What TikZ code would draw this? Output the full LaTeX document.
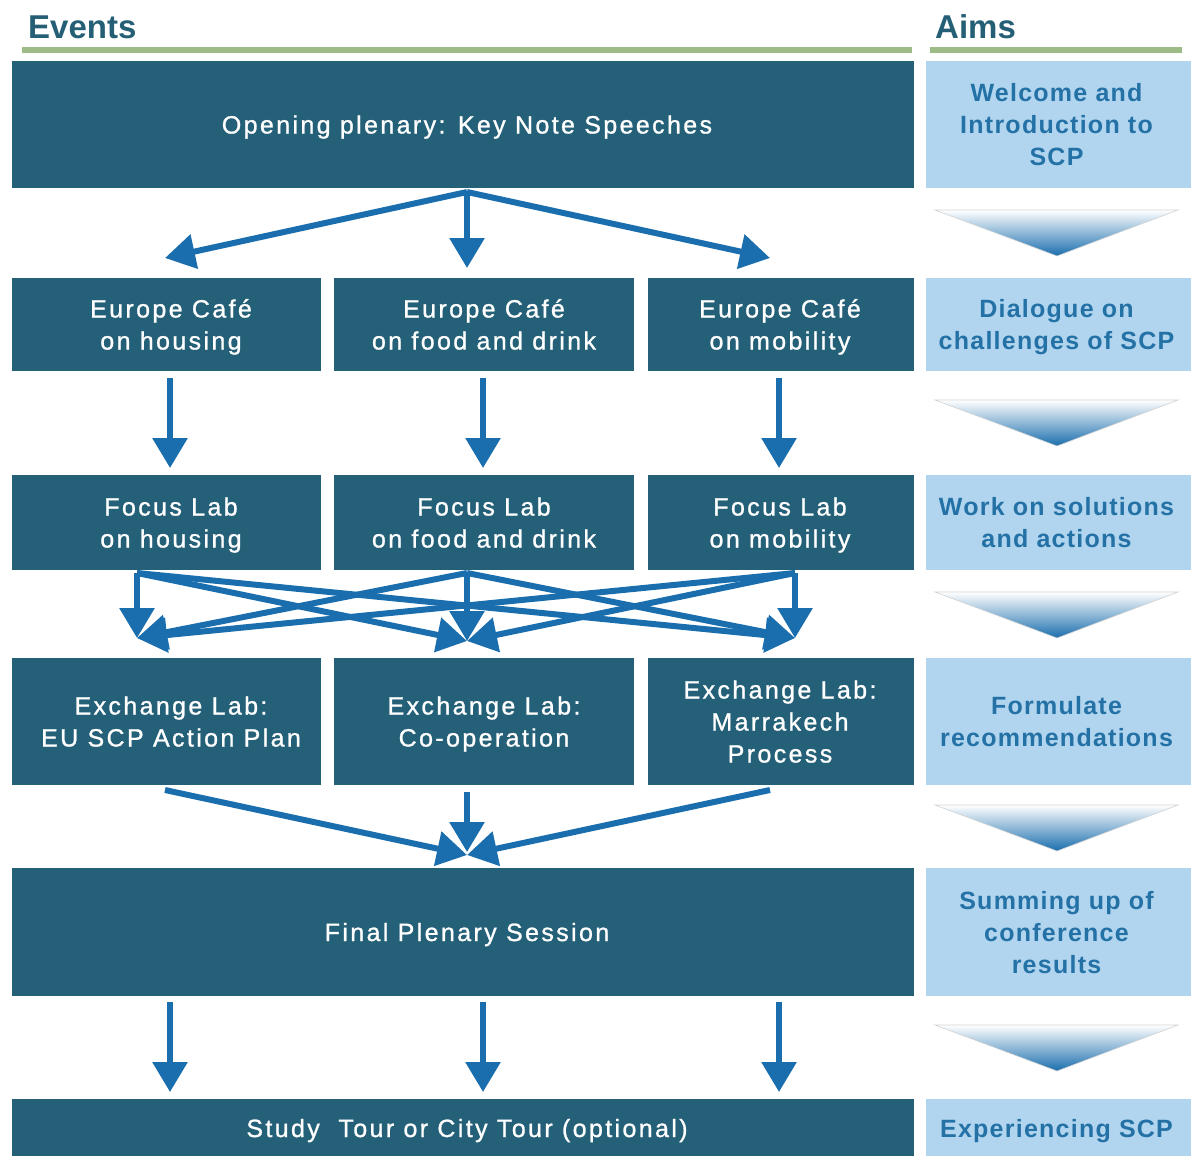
\documentclass[tikz,border=0pt]{standalone}
\usepackage{fontspec}
\setmainfont{Liberation Sans}
\newfontfamily\boxfont[LetterSpace=9.5,FakeBold=1]{Liberation Sans}
\newfontfamily\aimfont[LetterSpace=5]{Liberation Sans}
\usetikzlibrary{arrows.meta}
\definecolor{boxteal}{RGB}{36,96,120}
\definecolor{headteal}{RGB}{36,95,118}
\definecolor{aimbg}{RGB}{177,213,239}
\definecolor{aimtext}{RGB}{36,113,166}
\definecolor{arrowblue}{RGB}{26,110,173}
\definecolor{linegreen}{RGB}{157,187,134}
\definecolor{trimid}{RGB}{214,221,231}
\newcommand\vs{\rule[-6pt]{0pt}{30pt}}
\tikzset{
  evtext/.style={inner sep=0pt, text=white, align=center,
    font=\boxfont\fontsize{25}{32}\selectfont},
  aimtext/.style={inner sep=0pt, text=aimtext, align=center,
    font=\aimfont\bfseries\fontsize{25}{32}\selectfont},
  heading/.style={text=headteal, inner sep=0pt, anchor=west,
    font=\bfseries\fontsize{33}{36}\selectfont},
  rule/.style={draw=linegreen, line width=6pt},
  arr/.style={draw=arrowblue, line width=6pt, -{Triangle[length=30pt,width=34pt]}},
  tri/.style={top color=white, middle color=trimid, bottom color=arrowblue, draw=gray!35, line width=0.6pt}
}
\begin{document}
\begin{tikzpicture}[x=1pt,y=-1pt]
\useasboundingbox (0,0) rectangle (1191,1156);
% headings
\node[heading] (events) at (28,27) {Events};
\node[heading] (aims) at (935,27) {Aims};
\draw[rule] (22,50) -- (912,50);
\draw[rule] (930,50) -- (1182,50);
% event boxes (backgrounds)
\fill[boxteal] (12,61) rectangle (914,188);
\foreach \ya/\yb in {278/371, 475/570, 658/785}{
  \fill[boxteal] (12,\ya) rectangle (321,\yb);
  \fill[boxteal] (334,\ya) rectangle (634,\yb);
  \fill[boxteal] (648,\ya) rectangle (914,\yb);
}
\fill[boxteal] (12,868) rectangle (914,996);
\fill[boxteal] (12,1099) rectangle (914,1156);
% aims boxes (backgrounds)
\foreach \ya/\yb in {61/188, 278/371, 475/570, 658/785, 868/996, 1099/1156}{
  \fill[aimbg] (926,\ya) rectangle (1191,\yb);
}
% event texts
\node[evtext] (open) at (467,124.5) {\vs Opening plenary: Key Note Speeches};
\node[evtext] (ec1) at (171,324.5) {\vs Europe Café\\\vs on housing};
\node[evtext] (ec2) at (484,324.5) {\vs Europe Café\\\vs on food and drink};
\node[evtext] (ec3) at (780,324.5) {\vs Europe Café\\\vs on mobility};
\node[evtext] (fl1) at (171,522.5) {\vs Focus Lab\\\vs on housing};
\node[evtext] (fl2) at (484,522.5) {\vs Focus Lab\\\vs on food and drink};
\node[evtext] (fl3) at (780,522.5) {\vs Focus Lab\\\vs on mobility};
\node[evtext] (ex1) at (171,721.5) {\vs Exchange Lab:\\\vs EU SCP Action Plan};
\node[evtext] (ex2) at (484,721.5) {\vs Exchange Lab:\\\vs Co-operation};
\node[evtext] (ex3) at (780,721.5) {\vs Exchange Lab:\\\vs Marrakech\\\vs Process};
\node[evtext] (final) at (467,932) {\vs Final Plenary Session};
\node[evtext] (study) at (467,1128) {\vs Study\ \ Tour or City Tour (optional)};
% aims texts
\node[aimtext] (a1) at (1056.5,124.5) {\vs Welcome and\\\vs Introduction to\\\vs SCP};
\node[aimtext] (a2) at (1056.5,324.5) {\vs Dialogue on\\\vs challenges of SCP};
\node[aimtext] (a3) at (1056.5,522.5) {\vs Work on solutions\\\vs and actions};
\node[aimtext] (a4) at (1056.5,721.5) {\vs Formulate\\\vs recommendations};
\node[aimtext] (a5) at (1056.5,932) {\vs Summing up of\\\vs conference\\\vs results};
\node[aimtext] (a6) at (1056.5,1128) {\vs Experiencing SCP};
% gradient triangles
\foreach \ty in {210,400,592,805,1025}{
  \shade[tri] (935,\ty) -- (1178,\ty) -- (1057,\ty+46) -- cycle;
}
% arrow coordinates
\coordinate (fan) at (467,192);
\coordinate (f1) at (165,258);
\coordinate (f2) at (467,268);
\coordinate (f3) at (770,258);
\draw[arr] (fan) -- (f1);
\draw[arr] (fan) -- (f2);
\draw[arr] (fan) -- (f3);
% cafe -> focus lab
\coordinate (c1s) at (170,378); \coordinate (c1e) at (170,468);
\coordinate (c2s) at (483,378); \coordinate (c2e) at (483,468);
\coordinate (c3s) at (779,378); \coordinate (c3e) at (779,468);
\draw[arr] (c1s) -- (c1e);
\draw[arr] (c2s) -- (c2e);
\draw[arr] (c3s) -- (c3e);
% focus lab -> exchange lab (crossing)
\coordinate (s1) at (137,573); \coordinate (s2) at (467,573); \coordinate (s3) at (795,573);
\coordinate (t1) at (137,638); \coordinate (t2) at (467,641); \coordinate (t3) at (795,638);
\foreach \s in {s1,s2,s3}{
  \foreach \t in {t1,t2,t3}{
    \draw[arr] (\s) -- (\t);
  }
}
% exchange lab -> final
\coordinate (e1) at (165,790);
\coordinate (e2) at (467,792);
\coordinate (e3) at (770,790);
\coordinate (fin) at (467,855);
\coordinate (fin2) at (467,852);
\draw[arr] (e1) -- (fin);
\draw[arr] (e2) -- (fin2);
\draw[arr] (e3) -- (fin);
% final -> study
\coordinate (d1s) at (170,1002); \coordinate (d1e) at (170,1092);
\coordinate (d2s) at (483,1002); \coordinate (d2e) at (483,1092);
\coordinate (d3s) at (779,1002); \coordinate (d3e) at (779,1092);
\draw[arr] (d1s) -- (d1e);
\draw[arr] (d2s) -- (d2e);
\draw[arr] (d3s) -- (d3e);
\end{tikzpicture}
\end{document}
